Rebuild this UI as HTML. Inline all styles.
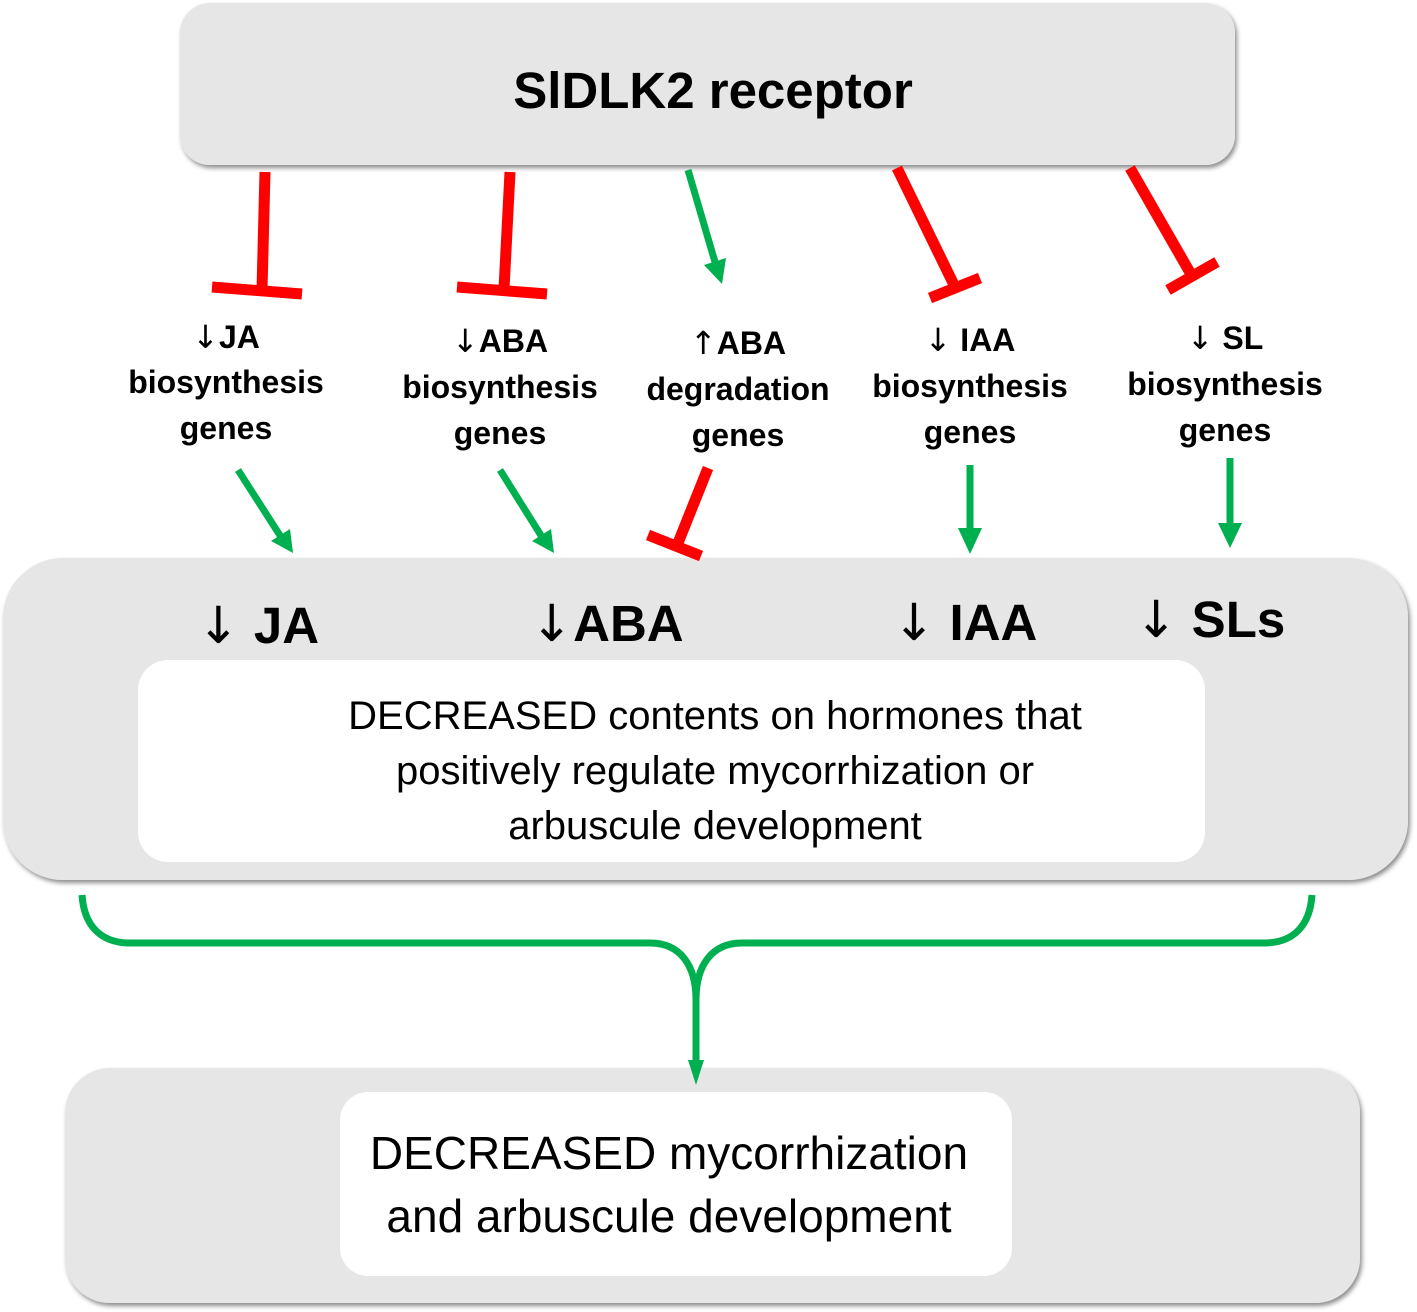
<!DOCTYPE html>
<html><head><meta charset="utf-8"><style>
html,body{margin:0;padding:0;background:#fff;}
svg{display:block;}
text{font-family:"Liberation Sans","DejaVu Sans",sans-serif;fill:#000;}
.b{font-weight:bold;font-size:32px;}
.h{font-weight:bold;font-size:51px;}
.n{font-size:40px;}
.m{font-size:46px;}
.ar{font-family:"DejaVu Sans",sans-serif;font-weight:normal;}
</style></head><body>
<svg width="1417" height="1312" viewBox="0 0 1417 1312" xmlns="http://www.w3.org/2000/svg">
<defs>
<filter id="sh" x="-5%" y="-5%" width="110%" height="115%"><feDropShadow dx="2" dy="3" stdDeviation="2.5" flood-color="#000" flood-opacity="0.45"/></filter>
</defs>
<rect x="180" y="3" width="1055" height="162" rx="30" fill="#e6e6e6" filter="url(#sh)"/>
<text x="713" y="108" text-anchor="middle" font-weight="bold" font-size="51">SlDLK2 receptor</text>

<rect x="3" y="558" width="1405" height="322" rx="60" fill="#e6e6e6" filter="url(#sh)"/>
<rect x="138" y="660" width="1067" height="202" rx="30" fill="#fff"/>
<rect x="65" y="1068" width="1295" height="235" rx="45" fill="#e6e6e6" filter="url(#sh)"/>
<rect x="340" y="1092" width="672" height="184" rx="28" fill="#fff"/>

<g stroke="#ff0000" stroke-width="11" fill="none">
<line x1="265" y1="172" x2="262" y2="290"/><line x1="212" y1="287" x2="302" y2="294"/>
<line x1="510" y1="172" x2="504" y2="289"/><line x1="457" y1="287" x2="547" y2="294"/>
<line x1="897" y1="168" x2="955" y2="287"/><line x1="930" y1="298" x2="980" y2="278"/>
<line x1="1130" y1="168" x2="1192" y2="276"/><line x1="1168" y1="290" x2="1217" y2="262"/>
<line x1="708" y1="468" x2="678" y2="543"/><line x1="648" y1="535" x2="701" y2="556"/>
</g>
<g stroke="#00b050" stroke-width="7" fill="none">
<line x1="688" y1="170" x2="715" y2="262"/>
<line x1="238" y1="470" x2="281" y2="537"/>
<line x1="500" y1="470" x2="542" y2="537"/>
<line x1="970" y1="465" x2="970" y2="530"/>
<line x1="1230" y1="458" x2="1230" y2="525"/>
<path d="M82 895 C84 925 100 943 130 943 L650 943 C680 943 696 965 696 1000 L696 1062 M1312 895 C1310 925 1294 943 1264 943 L742 943 C712 943 696 965 696 1000"/>
</g>
<g fill="#00b050">
<polygon points="704,265 726,258 722,284"/>
<polygon points="271,541 290,529 293,553"/>
<polygon points="532,541 551,529 554,553"/>
<polygon points="958,528 982,528 970,554"/>
<polygon points="1218,523 1242,523 1230,548"/>
<polygon points="688,1060 704,1060 696,1085"/>
</g>

<g class="b" text-anchor="middle">
<text x="226" y="348"><tspan class="ar">↓</tspan>JA</text><text x="226" y="393">biosynthesis</text><text x="226" y="439">genes</text>
<text x="500" y="352"><tspan class="ar">↓</tspan>ABA</text><text x="500" y="398">biosynthesis</text><text x="500" y="444">genes</text>
<text x="738" y="354"><tspan class="ar">↑</tspan>ABA</text><text x="738" y="400">degradation</text><text x="738" y="446">genes</text>
<text x="970" y="351"><tspan class="ar">↓</tspan> IAA</text><text x="970" y="397">biosynthesis</text><text x="970" y="443">genes</text>
<text x="1225" y="349"><tspan class="ar">↓</tspan> SL</text><text x="1225" y="395">biosynthesis</text><text x="1225" y="441">genes</text>
</g>
<g class="h" text-anchor="middle">
<text x="258" y="643"><tspan class="ar">↓</tspan> JA</text>
<text x="607" y="641"><tspan class="ar">↓</tspan>ABA</text>
<text x="965" y="640"><tspan class="ar">↓</tspan> IAA</text>
<text x="1210" y="637"><tspan class="ar">↓</tspan> SLs</text>
</g>
<g class="n" text-anchor="middle">
<text x="715" y="729">DECREASED contents on hormones that</text>
<text x="715" y="784">positively regulate mycorrhization or</text>
<text x="715" y="839">arbuscule development</text>
</g>
<g class="m" text-anchor="middle">
<text x="669" y="1169">DECREASED mycorrhization</text>
<text x="669" y="1232">and arbuscule development</text>
</g>
</svg>
</body></html>
